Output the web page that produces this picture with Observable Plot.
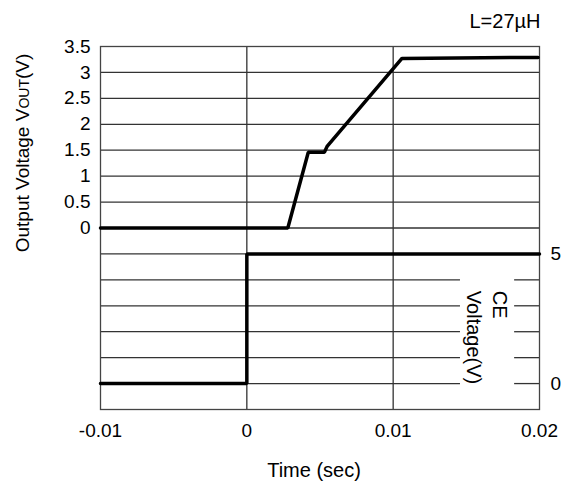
<!DOCTYPE html>
<html>
<head>
<meta charset="utf-8">
<script src="https://cdn.jsdelivr.net/npm/d3@7"></script>
<script src="https://cdn.jsdelivr.net/npm/@observablehq/plot@0.6"></script>
<style>
  html, body { margin: 0; padding: 0; background: white; }
</style>
</head>
<body>
<div id="chart"></div>
<script>
// ---- data ----
const xTicks = [-0.01, 0, 0.01, 0.02];
const outTicks = [0, 0.5, 1, 1.5, 2, 2.5, 3, 3.5];
const ceTicks = [0, 5];

// Output voltage VOUT (V) vs time (s)
const outTime = [-0.01, 0.0028, 0.0042, 0.0053, 0.0055, 0.0106, 0.0199];
const outVolt = [0, 0, 1.46, 1.46, 1.58, 3.27, 3.29];

// CE voltage (V) vs time (s)
const ceTime = [-0.01, 0, 0, 0.02];
const ceVolt = [0, 0, 5, 5];

// grid lines (shared vertical scale units)
const gridFull = [3, 2.5, 2, 1.5, 1, 0.5, 0, -0.5];
const gridGapped = [-1, -1.5, -2, -2.5, -3];
const gridX = [0, 0.01];

const annotation = "L=27\u00B5H";
const xLabel = "Time (sec)";
const ceLabel = "CE\nVoltage(V)";

// CE axis maps 0 V -> -3 and 5 V -> -0.5 on the shared scale
const ceToY = v => -3 + v * 0.5;
const gapStart = 0.0146, gapEnd = 0.0183;

const outData = outTime.map((t, i) => ({t, v: outVolt[i]}));
const ceData = ceTime.map((t, i) => ({t, v: ceVolt[i]}));

const gridColor = "#333";
const font = "'Liberation Sans', Arial, sans-serif";

const chart = Plot.plot({
  width: 567,
  height: 486,
  marginTop: 46,
  marginRight: 28,
  marginBottom: 77,
  marginLeft: 100,
  x: {domain: [-0.01, 0.02]},
  y: {domain: [-3.5, 3.5]},
  style: {fontFamily: font, fontSize: "19px", background: "white", color: "black"},
  marks: [
    Plot.ruleY(gridFull, {stroke: gridColor, strokeWidth: 1.3}),
    Plot.ruleY(gridGapped, {x1: -0.01, x2: gapStart, stroke: gridColor, strokeWidth: 1.3}),
    Plot.ruleY(gridGapped, {x1: gapEnd, x2: 0.02, stroke: gridColor, strokeWidth: 1.3}),
    Plot.ruleX(gridX, {stroke: gridColor, strokeWidth: 1.3}),
    Plot.frame({stroke: "#444", strokeWidth: 1.3}),
    Plot.line(ceData, {x: "t", y: d => ceToY(d.v), stroke: "black", strokeWidth: 3.5, strokeLinejoin: "miter"}),
    Plot.line(outData, {x: "t", y: "v", stroke: "black", strokeWidth: 3.5, strokeLinejoin: "miter"}),
    Plot.axisX(xTicks, {tickSize: 0, tickPadding: 14, tickFormat: d => String(d), label: null, fontSize: 19}),
    Plot.axisY(outTicks, {anchor: "left", tickSize: 0, tickPadding: 10, tickFormat: d => String(d), label: null, fontSize: 19}),
    Plot.text(ceTicks, {y: d => ceToY(d), frameAnchor: "right", dx: 11, textAnchor: "start", text: d => String(d), fontSize: 19, fill: "black"}),
    Plot.text([ceLabel], {x: (gapStart + gapEnd) / 2, y: -1, dy: 11, dx: 1, rotate: 90, textAnchor: "start", lineAnchor: "middle", lineHeight: 1.3, text: d => d, fontSize: 20, fill: "black"}),
    Plot.text([xLabel], {frameAnchor: "bottom", dy: 61, dx: -6, lineAnchor: "middle", text: d => d, fontSize: 20, fill: "black"}),
    Plot.text([annotation], {frameAnchor: "top-right", dy: -25, dx: 1, textAnchor: "end", lineAnchor: "middle", text: d => d, fontSize: 20, fill: "black"})
  ]
});

// y-axis title with small-caps "OUT"
const svg = d3.select(chart);
const yt = svg.append("text")
  .attr("transform", "translate(22,153) rotate(-90)")
  .attr("text-anchor", "middle")
  .attr("dy", "0.35em")
  .attr("font-size", 19)
  .attr("font-family", font)
  .attr("fill", "black");
yt.append("tspan").text("Output Voltage V");
yt.append("tspan").attr("font-size", 14).text("OUT");
yt.append("tspan").text("(V)");

document.getElementById("chart").appendChild(chart);
</script>
</body>
</html>
